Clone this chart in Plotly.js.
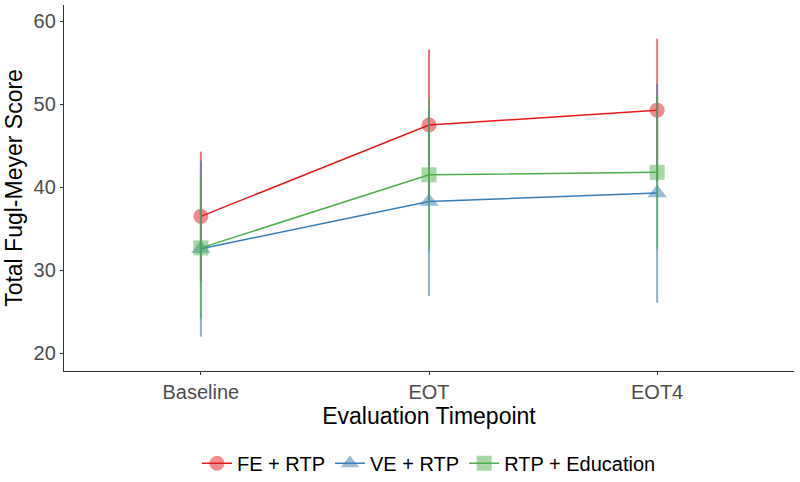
<!DOCTYPE html>
<html>
<head>
<meta charset="utf-8">
<script src="https://cdn.plot.ly/plotly-3.0.1.min.js"></script>
<style>html,body{margin:0;padding:0;background:#fff;}#chart{width:800px;height:482px;}</style>
</head>
<body>
<div id="chart"></div>
<script>
var timepoints = ["Baseline", "EOT", "EOT4"];
var groups = ["FE + RTP", "VE + RTP", "RTP + Education"];
var feMean = [36.5, 47.5, 49.3];
var feSD = [7.8, 9.1, 8.6];
var veMean = [32.6, 38.3, 39.3];
var veSD = [10.6, 11.4, 13.2];
var edMean = [32.7, 41.5, 41.8];
var edSD = [8.5, 9.2, 9.2];

var colors = ["#E41A1C", "#377EB8", "#4DAF4A"];
var errColors = ["rgba(228,26,28,0.6)", "rgba(55,126,184,0.6)", "rgba(77,175,74,0.6)"];
var symbols = ["circle", "triangle-up", "square"];
var sizes = [15, 17, 15];
var means = [feMean, veMean, edMean];
var sds = [feSD, veSD, edSD];

var traces = groups.map(function (g, i) {
  return {
    type: "scatter",
    mode: "lines+markers",
    name: g,
    x: timepoints,
    y: means[i],
    line: {color: colors[i], width: 1.5},
    marker: {color: colors[i], symbol: symbols[i], size: sizes[i], opacity: 0.5, line: {width: 0}},
    error_y: {type: "data", array: sds[i], visible: true, width: 0, thickness: 2, color: errColors[i]}
  };
});

var layout = {
  width: 800,
  height: 482,
  margin: {l: 64, r: 6, t: 5, b: 111, autoexpand: false},
  paper_bgcolor: "#fff",
  plot_bgcolor: "#fff",
  font: {family: "Liberation Sans, Arial, sans-serif", color: "#000"},
  showlegend: true,
  legend: {
    orientation: "h",
    x: 0.5, xanchor: "center",
    y: -0.252, yanchor: "middle",
    font: {size: 20, color: "#000"},
    itemwidth: 30,
    tracegroupgap: 0
  },
  xaxis: {
    type: "category",
    range: [-0.6, 2.6],
    showline: true, linecolor: "#333", linewidth: 1.2,
    showgrid: false, zeroline: false,
    ticks: "outside", ticklen: 3, tickcolor: "#333", tickwidth: 1,
    tickfont: {size: 20, color: "#4D4D4D"},
    title: {text: "Evaluation Timepoint", font: {size: 23, color: "#000"}, standoff: 3}
  },
  yaxis: {
    range: [17.86, 61.97],
    tickvals: [20, 30, 40, 50, 60],
    showline: true, linecolor: "#333", linewidth: 1.2,
    showgrid: false, zeroline: false,
    ticks: "outside", ticklen: 3, tickcolor: "#333", tickwidth: 1,
    tickfont: {size: 20, color: "#4D4D4D"},
    title: {text: "Total Fugl-Meyer Score", font: {size: 23, color: "#000"}, standoff: 4}
  }
};

Plotly.newPlot("chart", traces, layout, {displayModeBar: false, staticPlot: true});
</script>
</body>
</html>
